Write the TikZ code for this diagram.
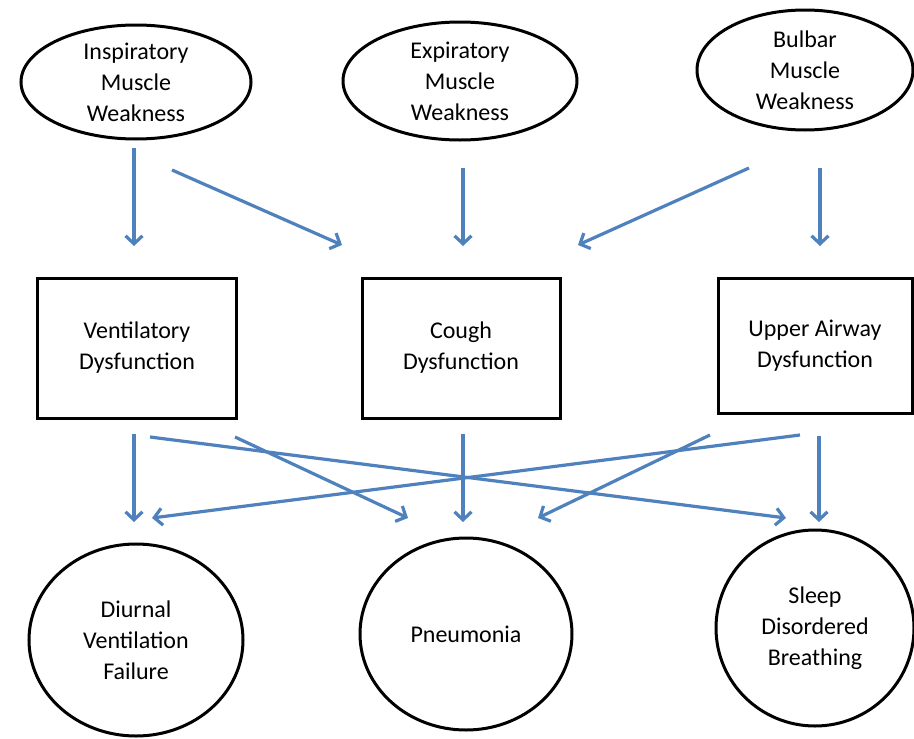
\documentclass[tikz,border=0pt]{standalone}
\usepackage{fontspec}
\setmainfont{Carlito}
\usetikzlibrary{shapes.geometric,arrows.meta}
\definecolor{arrowblue}{RGB}{79,129,189}
\begin{document}
\begin{tikzpicture}[x=1pt,y=-1pt,
  lbl/.style={font=\fontsize{24}{31}\selectfont, align=center, inner sep=0pt},
  oval/.style={lbl, draw=black, line width=3pt, ellipse},
  boxnode/.style={lbl, draw=black, line width=3pt, rectangle},
  conn/.style={draw=arrowblue, line width=3.2pt, -{Straight Barb[length=8pt,width=17pt]}}]
\useasboundingbox (0,0) rectangle (914,739);
% top ellipses
\node[oval, minimum width=230pt, minimum height=114pt] (insp) at (136,82) {Inspiratory\\Muscle\\Weakness};
\node[oval, minimum width=234pt, minimum height=118pt] (exp) at (460,81) {Expiratory\\Muscle\\Weakness};
\node[oval, minimum width=216pt, minimum height=120pt] (bulb) at (805,70) {Bulbar\\Muscle\\Weakness};
% boxes
\node[boxnode, minimum width=199pt, minimum height=140pt] (vent) at (137,348) {Ventilatory\\Dysfunction};
\node[boxnode, minimum width=198pt, minimum height=140pt] (cough) at (461,348) {Cough\\Dysfunction};
\node[boxnode, minimum width=194pt, minimum height=135pt] (uad) at (815,346) {Upper Airway\\Dysfunction};
% bottom ellipses
\node[oval, minimum width=214pt, minimum height=192pt] (diur) at (136,640) {Diurnal\\Ventilation\\Failure};
\node[oval, minimum width=212pt, minimum height=192pt] (pneu) at (466,634) {Pneumonia};
\node[oval, minimum width=198pt, minimum height=196pt] (sleep) at (815,628) {Sleep\\Disordered\\Breathing};
% arrow end points
\coordinate (a1s) at (134,148); \coordinate (a1e) at (134,246);
\coordinate (a2s) at (172,170); \coordinate (a2e) at (342,245);
\coordinate (a3s) at (463,168); \coordinate (a3e) at (463,246);
\coordinate (a4s) at (749,168); \coordinate (a4e) at (578,245);
\coordinate (a5s) at (820,168); \coordinate (a5e) at (820,246);
\coordinate (b1s) at (134,434); \coordinate (b1e) at (134,522);
\coordinate (b2s) at (150,437); \coordinate (b2e) at (786,518);
\coordinate (b3s) at (235,437); \coordinate (b3e) at (408,518);
\coordinate (b4s) at (463,434); \coordinate (b4e) at (463,522);
\coordinate (b5s) at (710,435); \coordinate (b5e) at (538,518);
\coordinate (b6s) at (800,435); \coordinate (b6e) at (152,518);
\coordinate (b7s) at (819,436); \coordinate (b7e) at (819,522);
\foreach \s/\e in {a1s/a1e,a2s/a2e,a3s/a3e,a4s/a4e,a5s/a5e,b1s/b1e,b2s/b2e,b3s/b3e,b4s/b4e,b5s/b5e,b6s/b6e,b7s/b7e}
  \draw[conn] (\s) -- (\e);
\end{tikzpicture}
\end{document}
